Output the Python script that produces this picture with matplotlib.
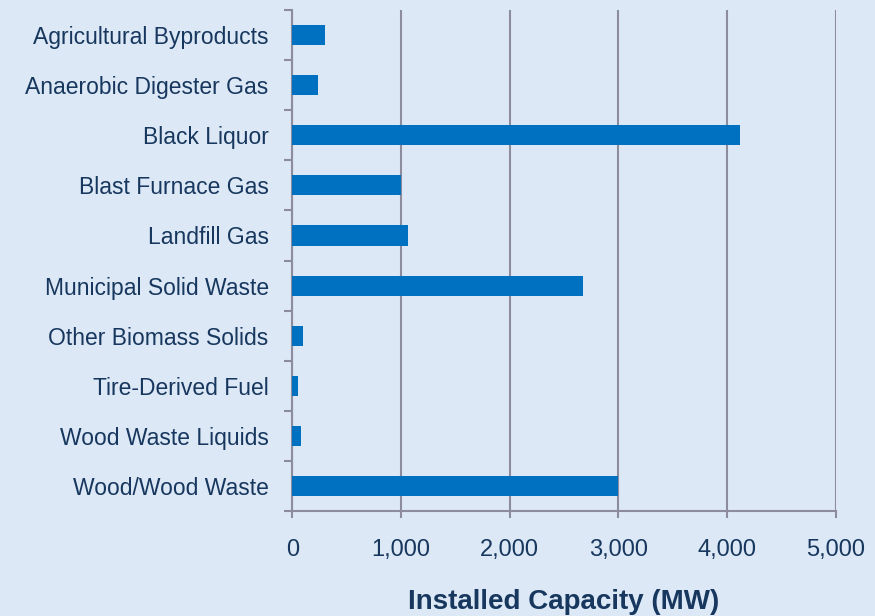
import matplotlib.pyplot as plt
import numpy as np

categories = ["Agricultural Byproducts", "Anaerobic Digester Gas", "Black Liquor",
              "Blast Furnace Gas", "Landfill Gas", "Municipal Solid Waste",
              "Other Biomass Solids", "Tire-Derived Fuel", "Wood Waste Liquids",
              "Wood/Wood Waste"]
capacity = [304, 240, 4120, 1000, 1065, 2680, 101, 52, 77, 2995]
xticks = [0, 1000, 2000, 3000, 4000, 5000]
xticklabels = ["0", "1,000", "2,000", "3,000", "4,000", "5,000"]

plt.rcParams['font.family'] = ['Liberation Sans', 'DejaVu Sans']
txt = "#17375E"
grey = "#8c8c9c"
bg = "#dce8f5"

fig = plt.figure(figsize=(8.75, 6.16), dpi=100, facecolor=bg)
ax = fig.add_axes([0.334, 0.17, 0.621, 0.814])
ax.set_facecolor(bg)

y = np.arange(len(categories))
ax.barh(y, capacity, height=0.4, color="#0070C0", zorder=3)
ax.set_ylim(len(categories) - 0.5, -0.5)
ax.set_xlim(0, 5000)

ax.set_yticks(y)
ax.set_yticklabels(categories, fontsize=16.5, color=txt)
ax.set_yticks(np.arange(len(categories) + 1) - 0.5, minor=True)
ax.tick_params(axis="y", which="major", length=0, pad=17)
ax.tick_params(axis="y", which="minor", length=6, width=1.5, color=grey)

ax.set_xticks(xticks)
ax.set_xticklabels(xticklabels, fontsize=17, color=txt)
ax.tick_params(axis="x", length=5, width=1.5, color=grey, pad=15)
ax.xaxis.grid(True, color=grey, linewidth=1.5, zorder=0)

for s in ["top", "right"]:
    ax.spines[s].set_visible(False)
for s in ["left", "bottom"]:
    ax.spines[s].set_color(grey)
    ax.spines[s].set_linewidth(1.5)

ax.set_xlabel("Installed Capacity (MW)", fontsize=20, fontweight="bold", color=txt, labelpad=20)

fig.savefig("out.png", facecolor=bg)
